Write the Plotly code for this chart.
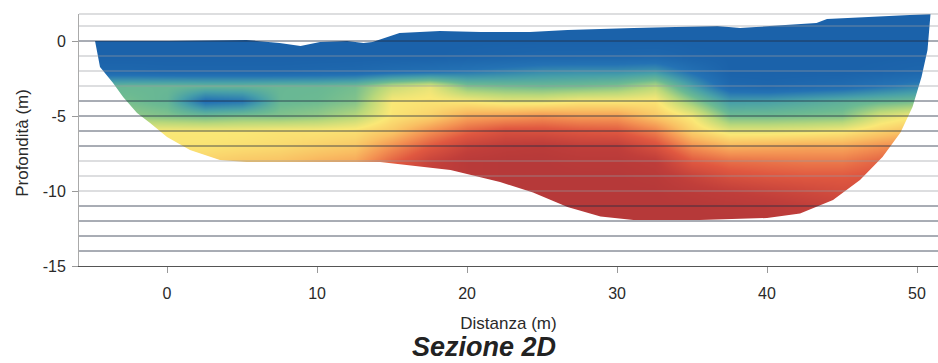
import plotly.graph_objects as go

# ---------------- data ----------------
x_centers = [-5, -2.5, 0, 2.5, 5, 7.5, 10, 12.5, 15, 17.5, 20, 22.5, 25, 27.5,
             30, 32.5, 35, 37.5, 40, 42.5, 45, 47.5, 50, 52.5]
depth_centers = [2, 1, 0, -1, -2, -3, -4, -5, -6, -7, -8, -9, -10, -11, -12, -13]

# normalised resistivity (0 = blue ... 1 = dark red), rows follow depth_centers
resistivity = [
    [0, 0, 0, 0, 0, 0, 0, 0, 0, 0, 0, 0, 0, 0, 0, 0, 0, 0, 0, 0, 0, 0, 0, 0],
    [0, 0, 0, 0, 0, 0, 0, 0, 0, 0, 0, 0, 0, 0, 0, 0, 0, 0, 0, 0, 0, 0, 0, 0],
    [0, 0, 0, 0, 0, 0, 0, 0, 0, 0, 0, 0, 0, 0, 0, 0, 0, 0, 0, 0, 0, 0, 0, 0],
    [0, 0, 0, 0, 0, 0, 0, 0, 0, 0, 0.01, 0.02, 0.03, 0.03, 0.03, 0.04, 0.01, 0, 0, 0, 0, 0, 0, 0],
    [0.04, 0.04, 0.03, 0.03, 0.03, 0.03, 0.04, 0.05, 0.08, 0.1, 0.13, 0.16, 0.19, 0.2, 0.2, 0.22, 0.1, 0, 0, 0, 0, 0.01, 0.03, 0.03],
    [0.33, 0.34, 0.34, 0.33, 0.33, 0.34, 0.34, 0.36, 0.47, 0.52, 0.38, 0.36, 0.35, 0.36, 0.38, 0.45, 0.25, 0.05, 0.03, 0.05, 0.07, 0.12, 0.17, 0.17],
    [0.36, 0.36, 0.33, 0.1, 0.13, 0.34, 0.35, 0.38, 0.55, 0.56, 0.55, 0.52, 0.52, 0.55, 0.55, 0.56, 0.4, 0.24, 0.25, 0.28, 0.31, 0.34, 0.36, 0.36],
    [0.38, 0.4, 0.38, 0.36, 0.38, 0.38, 0.4, 0.45, 0.56, 0.6, 0.68, 0.7, 0.72, 0.7, 0.7, 0.62, 0.54, 0.36, 0.36, 0.37, 0.38, 0.5, 0.55, 0.55],
    [0.5, 0.55, 0.55, 0.55, 0.55, 0.56, 0.56, 0.57, 0.62, 0.72, 0.8, 0.85, 0.85, 0.83, 0.82, 0.75, 0.6, 0.52, 0.52, 0.53, 0.55, 0.6, 0.65, 0.65],
    [0.55, 0.55, 0.56, 0.56, 0.57, 0.58, 0.6, 0.62, 0.72, 0.82, 0.9, 0.93, 0.94, 0.92, 0.92, 0.85, 0.72, 0.66, 0.67, 0.68, 0.68, 0.72, 0.75, 0.75],
    [0.58, 0.58, 0.58, 0.6, 0.62, 0.63, 0.66, 0.68, 0.8, 0.9, 0.95, 0.96, 0.96, 0.95, 0.95, 0.93, 0.82, 0.78, 0.77, 0.76, 0.76, 0.8, 0.82, 0.82],
    [0.6, 0.6, 0.6, 0.62, 0.64, 0.66, 0.7, 0.75, 0.85, 0.92, 0.95, 0.96, 0.96, 0.96, 0.96, 0.95, 0.9, 0.85, 0.83, 0.82, 0.82, 0.84, 0.85, 0.85],
    [0.62, 0.62, 0.62, 0.64, 0.66, 0.68, 0.72, 0.78, 0.88, 0.93, 0.95, 0.96, 0.96, 0.96, 0.96, 0.96, 0.94, 0.92, 0.9, 0.88, 0.86, 0.86, 0.86, 0.86],
    [0.64, 0.64, 0.64, 0.66, 0.68, 0.7, 0.74, 0.8, 0.9, 0.94, 0.95, 0.96, 0.96, 0.96, 0.96, 0.96, 0.96, 0.95, 0.94, 0.92, 0.9, 0.88, 0.88, 0.88],
    [0.65, 0.65, 0.65, 0.67, 0.69, 0.71, 0.75, 0.82, 0.9, 0.94, 0.95, 0.96, 0.96, 0.96, 0.96, 0.96, 0.96, 0.96, 0.95, 0.93, 0.91, 0.9, 0.9, 0.9],
    [0.65, 0.65, 0.65, 0.67, 0.69, 0.71, 0.75, 0.82, 0.9, 0.94, 0.95, 0.96, 0.96, 0.96, 0.96, 0.96, 0.96, 0.96, 0.95, 0.93, 0.91, 0.9, 0.9, 0.9],
]

# ground surface (top of section)
surface_x = [-4.8, 0, 5.3, 7.5, 8.9, 10.2, 12, 13.1, 13.7, 15.5, 18.2, 20.9, 24.2,
             26.7, 31.1, 36.7, 38.2, 43.3, 44, 46.7, 50.9]
surface_y = [0, 0, 0.07, -0.13, -0.33, -0.07, 0, -0.13, -0.07, 0.53, 0.67, 0.6, 0.6,
             0.73, 0.87, 1.0, 0.87, 1.2, 1.47, 1.6, 1.8]

# lower limit of the section (left edge -> bottom -> right edge)
base_x = [-4.8, -4.47, -3.6, -2.93, -2.0, -1.13, 0, 1.53, 3.53, 5.3, 14.2, 18.9, 22.2,
          24.4, 26.7, 28.9, 31.1, 35.5, 40, 42.2, 44.4, 46.2, 47.7, 48.9, 49.7, 50.3,
          50.7, 50.9]
base_y = [0, -1.73, -2.8, -3.73, -4.8, -5.47, -6.4, -7.27, -7.93, -8.07, -8.07, -8.6, -9.4,
          -10.1, -11.07, -11.7, -11.93, -11.93, -11.8, -11.5, -10.6, -9.27, -7.73, -6.1,
          -4.4, -2.4, -0.6, 1.8]

x_ticks = [0, 10, 20, 30, 40, 50]
y_ticks = [0, -5, -10, -15]
y_tick_labels = ["0", "-5", "-10", "-15"]
grid_depths = list(range(-14, 2))
dark_grid_depths = [0, -4, -5, -6, -7, -11, -12, -13, -14]

x_range = [-5.87, 51.4]
y_range = [-15, 1.8]

# ---------------- style ----------------
colorscale = [
    [0.00, "rgb(27,98,170)"],
    [0.12, "rgb(36,114,180)"],
    [0.25, "rgb(72,160,168)"],
    [0.35, "rgb(108,186,146)"],
    [0.45, "rgb(185,216,122)"],
    [0.55, "rgb(250,232,118)"],
    [0.64, "rgb(249,190,98)"],
    [0.72, "rgb(243,145,82)"],
    [0.82, "rgb(224,88,64)"],
    [0.92, "rgb(192,62,58)"],
    [1.00, "rgb(172,52,56)"],
]
FONT = "Liberation Sans, Arial, sans-serif"

fig = go.Figure()
fig.add_trace(go.Heatmap(
    x=x_centers, y=depth_centers, z=resistivity,
    colorscale=colorscale, zmin=0, zmax=1, zsmooth="best",
    showscale=False, hoverinfo="skip",
))

pad_l, pad_r, pad_t, pad_b = -6.5, 52.5, 2.6, -16.5
# white mask above the ground surface
fig.add_trace(go.Scatter(
    x=[pad_l] + surface_x + [pad_r, pad_r, pad_l],
    y=[0] + surface_y + [surface_y[-1], pad_t, pad_t],
    fill="toself", fillcolor="white", mode="lines", line=dict(width=0),
    hoverinfo="skip", showlegend=False,
))
# white mask below / beside the section
fig.add_trace(go.Scatter(
    x=[pad_l] + base_x + [pad_r, pad_r, pad_l],
    y=[0] + base_y + [pad_t, pad_b, pad_b],
    fill="toself", fillcolor="white", mode="lines", line=dict(width=0),
    hoverinfo="skip", showlegend=False,
))

shapes = []
for d in grid_depths:
    dark = d in dark_grid_depths
    shapes.append(dict(
        type="line", xref="paper", x0=0, x1=1, yref="y", y0=d, y1=d, layer="above",
        line=dict(color="rgba(35,45,65,0.78)" if dark else "rgba(150,155,162,0.65)", width=1),
    ))
shapes.append(dict(type="line", xref="paper", x0=0, x1=1, yref="paper", y0=1, y1=1,
                   layer="above", line=dict(color="rgba(170,172,176,0.8)", width=1)))

fig.update_layout(
    width=938, height=363,
    margin=dict(l=79, r=0, t=14, b=97, autoexpand=False),
    paper_bgcolor="white", plot_bgcolor="white",
    showlegend=False,
    shapes=shapes,
    font=dict(family=FONT, color="#2a2a2a", size=16),
    xaxis=dict(
        range=x_range, tickvals=x_ticks, ticks="outside", ticklen=6, tickcolor="#999",
        showgrid=False, zeroline=False, showline=True, linecolor="#555", linewidth=1,
        ticklabelstandoff=7, tickfont=dict(size=16), automargin=False,
        title=dict(text="Distanza (m)", font=dict(size=17)),
        layer="above traces",
    ),
    yaxis=dict(
        range=y_range, tickvals=y_ticks, ticktext=y_tick_labels,
        ticks="outside", ticklen=6, tickcolor="#999",
        showgrid=False, zeroline=False, showline=True, linecolor="#aaa", linewidth=1,
        ticklabelstandoff=3, tickfont=dict(size=16), automargin=False,
        layer="above traces",
    ),
    annotations=[
        dict(text="Profondità (m)", xref="paper", yref="paper", x=-0.066, y=0.49,
             xanchor="center", yanchor="middle", textangle=-90, showarrow=False,
             font=dict(family=FONT, size=17, color="#2a2a2a")),
        dict(text="<b><i>Sezione 2D</i></b>", xref="paper", yref="paper",
             x=0.472, y=-0.323, xanchor="center", yanchor="middle", showarrow=False,
             font=dict(family=FONT, size=27, color="#222")),
    ],
)

fig.write_html("out.html", config={"displayModeBar": False},
               post_script="document.body.style.margin='0px';")
